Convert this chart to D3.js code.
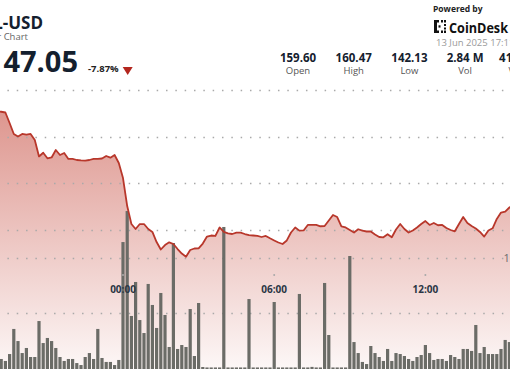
<!DOCTYPE html>
<html>
<head>
<meta charset="utf-8">
<script src="https://cdn.jsdelivr.net/npm/d3@7"></script>
<style>
  body { margin: 0; background: #fff; }
  svg { display: block; font-family: "Open Sans", sans-serif; }
</style>
</head>
<body>
<svg width="510" height="369"></svg>
<script>
const symbol = 'SOL-USD';
const subtitle = '24 Hour Chart';
const lastPrice = '147.05';
const change = '-7.87%';
const statValues = ['159.60', '160.47', '142.13', '2.84 M', '417.5 M'];
const statLabels = ['Open', 'High', 'Low', 'Vol', 'Value'];
const stamp = '13 Jun 2025 17:11';

// 10 minute steps, first one at 19:00 on 12 Jun
const startTime = new Date(2025, 5, 12, 19, 0);
const prices = [
  157.70, 157.67, 157.59, 156.46, 155.29, 155.02, 155.29, 155.23, 155.29, 154.64,
  152.88, 153.28, 152.68, 152.77, 153.57, 153.04, 153.25, 152.61, 152.61, 152.50,
  152.45, 152.43, 152.50, 152.61, 152.61, 152.66, 152.93, 152.75, 153.04, 152.18,
  150.57, 147.57, 145.64, 145.11, 145.64, 145.64, 145.11, 144.79, 143.71, 142.91,
  143.39, 143.68, 143.50, 142.96, 142.48, 142.14, 142.86, 143.02, 143.04, 143.55,
  144.30, 144.41, 144.36, 145.27, 144.79, 144.63, 144.57, 144.71, 144.71, 144.57,
  144.46, 144.41, 144.36, 144.25, 144.36, 144.11, 143.88, 143.66, 143.50, 143.88,
  144.73, 145.27, 144.93, 144.95, 145.54, 145.54, 145.54, 145.40, 145.43, 146.02,
  146.61, 146.39, 145.38, 145.27, 145.00, 144.73, 145.08, 144.93, 144.84, 144.84,
  144.52, 144.25, 144.22, 144.54, 144.22, 145.05, 145.64, 145.11, 144.73, 144.95,
  145.27, 145.64, 145.96, 145.54, 145.75, 145.51, 145.54, 145.21, 145.00, 144.86,
  145.64, 146.39, 145.75, 145.43, 145.16, 144.79, 144.30, 144.95, 145.18, 146.18,
  146.87, 146.96, 147.41, 147.68
];
// thousands
const volumes = [
  10.0, 8.2, 6.4, 12.7, 35.5, 24.5, 13.6, 18.2, 10.0, 10.0,
  42.7, 22.7, 27.3, 24.5, 18.2, 10.0, 6.4, 8.2, 8.2, 4.5,
  2.7, 10.0, 13.6, 8.2, 35.5, 9.1, 5.5, 5.5, 2.7, 7.3,
  114.5, 142.7, 47.3, 78.2, 43.6, 31.8, 76.4, 57.3, 36.4, 68.2,
  48.2, 19.1, 113.6, 17.3, 20.9, 19.1, 53.6, 10.9, 59.1, 0.9,
  0.5, 0.5, 0.5, 0.5, 128.2, 0.5, 0.5, 0.5, 0.5, 0.5,
  62.7, 0.5, 0.5, 0.5, 0.5, 0.5, 60.0, 0.5, 0.5, 0.5,
  0.5, 0.5, 67.3, 0.5, 0.5, 1.0, 0.5, 0.5, 77.3, 30.0,
  0.5, 0.5, 0.5, 0.5, 101.8, 23.6, 13.6, 5.5, 3.6, 20.0,
  13.6, 10.0, 6.4, 17.3, 6.4, 13.6, 12.7, 10.9, 8.2, 6.4,
  10.0, 11.8, 20.9, 13.6, 7.3, 8.2, 8.2, 6.4, 11.8, 10.0,
  8.2, 17.3, 17.3, 15.5, 39.1, 13.6, 19.1, 12.7, 12.7, 12.7,
  17.3, 25.5, 23.6, 20.0
];
const priceTicks = [145, 150, 155, 160];
const volumeTicks = [50, 100];
const volumeTickLabels = ['', '100K'];
const timeTicks = ['00:00', '06:00', '12:00'];

let svg = d3.select('svg');
let W = 510, H = 369;

let data = prices.map((p, i) => ({
  t: d3.timeMinute.offset(startTime, i * 10),
  price: p,
  vol: volumes[i]
}));

let x = d3.scaleTime()
  .domain([new Date(2025, 5, 13, 0, 0), new Date(2025, 5, 13, 6, 0)])
  .range([123, 274.2]);

let y = d3.scaleLinear()
  .domain([145, 160])
  .range([230, 90]);

let vy = d3.scaleLinear()
  .domain([0, 100])
  .range([368, 258]);

// area gradient
let grad = svg.append('defs').append('linearGradient')
  .attr('id', 'fade')
  .attr('gradientUnits', 'userSpaceOnUse')
  .attr('x1', 0).attr('x2', 0)
  .attr('y1', 100).attr('y2', H);
grad.append('stop').attr('offset', 0).attr('stop-color', '#c0392b').attr('stop-opacity', 0.55);
grad.append('stop').attr('offset', 1).attr('stop-color', '#c0392b').attr('stop-opacity', 0.04);

svg.append('path')
  .datum(data)
  .attr('fill', 'url(#fade)')
  .attr('d', d3.area().x(d => x(d.t)).y0(H).y1(d => y(d.price)));

// dotted grid
let gridYs = priceTicks.map(y).concat(volumeTicks.map(vy));
svg.append('g')
  .selectAll('line')
  .data(gridYs)
  .join('line')
    .attr('x1', 0).attr('x2', W)
    .attr('y1', d => Math.round(d) + 0.5)
    .attr('y2', d => Math.round(d) + 0.5)
    .attr('stroke', '#a9a9a9')
    .attr('stroke-width', 1.3)
    .attr('stroke-dasharray', '1.5 7.83')
    .attr('stroke-dashoffset', 1.93);

svg.append('g')
  .selectAll('text')
  .data(volumeTicks)
  .join('text')
    .attr('x', 503.5)
    .attr('y', d => vy(d) + 4)
    .attr('font-size', 11)
    .attr('fill', '#6a6a6a')
    .text((d, i) => volumeTickLabels[i]);

// volume bars
svg.append('g')
  .selectAll('rect')
  .data(data)
  .join('rect')
    .attr('x', d => x(d.t) - 1.6)
    .attr('width', 3.2)
    .attr('y', d => vy(d.vol))
    .attr('height', d => H - vy(d.vol))
    .attr('fill', '#6b6c67');

// price line
svg.append('path')
  .datum(data)
  .attr('fill', 'none')
  .attr('stroke', '#b8372b')
  .attr('stroke-width', 1.8)
  .attr('stroke-linejoin', 'round')
  .attr('d', d3.line().x(d => x(d.t)).y(d => y(d.price)));

// time labels
let parseTick = s => d3.timeParse('%Y-%m-%d %H:%M')('2025-06-13 ' + s);
let tg = svg.append('g');
tg.selectAll('circle')
  .data(timeTicks)
  .join('circle')
    .attr('cx', d => x(parseTick(d)))
    .attr('cy', 275)
    .attr('r', 1)
    .attr('fill', '#a8a8a8');
tg.selectAll('text')
  .data(timeTicks)
  .join('text')
    .attr('x', d => x(parseTick(d)))
    .attr('y', 293)
    .attr('text-anchor', 'middle')
    .attr('font-size', 10)
    .attr('font-weight', 700)
    .attr('fill', '#2a3644')
    .text(d => d);

// header
let head = svg.append('g').attr('fill', '#14202e');
head.append('text')
  .attr('x', 43).attr('y', 29)
  .attr('text-anchor', 'end')
  .attr('font-size', 17).attr('font-weight', 700)
  .text(symbol);
head.append('text')
  .attr('x', 28).attr('y', 40)
  .attr('text-anchor', 'end')
  .attr('font-size', 9.5).attr('fill', '#666')
  .text(subtitle);
head.append('text')
  .attr('x', 78).attr('y', 72)
  .attr('text-anchor', 'end')
  .attr('font-size', 29).attr('font-weight', 700)
  .text(lastPrice);
head.append('text')
  .attr('x', 88).attr('y', 72)
  .attr('font-size', 9.5).attr('font-weight', 700)
  .attr('fill', '#222')
  .text(change);
head.append('path')
  .attr('d', 'M122.7,67L132.7,67L127.7,75Z')
  .attr('fill', '#b3261e');

// powered by
head.append('text')
  .attr('x', 433).attr('y', 12)
  .attr('font-size', 8.5).attr('font-weight', 700)
  .attr('fill', '#222')
  .text('Powered by');
let logo = head.append('g').attr('fill', '#111');
[[434, 20, 3, 13], [434, 20, 5, 2.5], [434, 30.5, 5, 2.5], [441, 20, 2, 2.5], [441, 30.5, 2, 2.5],
 [444, 20, 2, 2.5], [444, 30.5, 2, 2.5], [444, 24, 2, 2], [444, 27.5, 2, 2], [438.5, 25.3, 2, 2.3]]
  .forEach(r => logo.append('rect').attr('x', r[0]).attr('y', r[1]).attr('width', r[2]).attr('height', r[3]));
head.append('text')
  .attr('x', 449).attr('y', 32.5)
  .attr('font-size', 14).attr('font-weight', 700)
  .attr('fill', '#111')
  .attr('textLength', 59)
  .attr('lengthAdjust', 'spacingAndGlyphs')
  .text('CoinDesk');
head.append('text')
  .attr('x', 436).attr('y', 46)
  .attr('font-size', 9.5).attr('fill', '#9a9a9a')
  .text(stamp);

let stats = head.append('g')
  .selectAll('g')
  .data(statValues)
  .join('g')
    .attr('transform', (d, i) => `translate(${298 + i * 55.7}, 0)`);
stats.append('text')
  .attr('y', 62)
  .attr('text-anchor', 'middle')
  .attr('font-size', 11.5).attr('font-weight', 700)
  .text(d => d);
stats.append('text')
  .attr('y', 74)
  .attr('text-anchor', 'middle')
  .attr('font-size', 9.5).attr('fill', '#555')
  .text((d, i) => statLabels[i]);
</script>
</body>
</html>
